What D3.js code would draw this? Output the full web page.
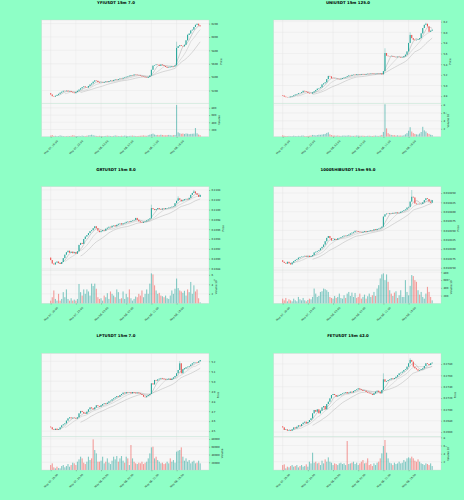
<!DOCTYPE html>
<html>
<head>
<meta charset="utf-8">
<script src="https://cdn.jsdelivr.net/npm/d3@7"></script>
<style>
  body { margin: 0; background: #8effc6; }
  svg { display: block; }
  text { font-family: "DejaVu Sans", sans-serif; }
</style>
</head>
<body>
<svg id="chart" width="464" height="500"></svg>
<script>
// x axis: 96 candles of 15m, a label every 16 candles
var timeTicks = [0, 16, 32, 48, 64, 80];
var timeLabels = ["May 07, 19:00", "May 07, 23:00", "May 08, 03:00", "May 08, 07:00", "May 08, 11:00", "May 08, 15:00"];
var mavWindows = [5, 10, 20];

// YFIUSDT
var yfiClose = [5140,5115,5108,5122,5135,5150,5168,5182,5196,5190,
  5198,5186,5192,5178,5170,5160,5178,5196,5214,5232,
  5250,5262,5248,5244,5268,5290,5306,5332,5352,5345,
  5325,5316,5322,5318,5328,5336,5330,5342,5350,5344,
  5358,5366,5360,5372,5380,5378,5390,5398,5406,5414,
  5422,5432,5428,5440,5436,5430,5426,5418,5410,5404,
  5396,5390,5402,5424,5510,5572,5580,5590,5584,5570,
  5588,5578,5566,5552,5540,5548,5556,5566,5560,5576,
  5836,5862,5878,5866,5860,5884,5950,6030,6052,6098,
  6110,6150,6182,6198,6172,6160];
var yfiVolume = [30,45,20,25,15,20,35,25,18,12,
  15,22,18,25,40,30,20,18,25,15,
  30,22,16,28,35,45,55,40,30,22,
  18,25,20,15,18,22,30,25,20,18,
  22,35,28,20,18,26,22,30,25,18,
  22,26,30,24,20,18,22,26,30,35,
  28,24,40,55,70,85,60,45,50,40,
  55,48,42,38,45,50,40,36,42,48,
  880,120,95,80,88,76,90,84,70,78,
  82,86,240,95,60,40];
var yfiPriceTicks = [5200, 5400, 5600, 5800, 6000, 6200];
var yfiVolTicks = [200, 400, 600, 800];

// UNIUSDT
var uniClose = [4.81,4.79,4.78,4.775,4.78,4.79,4.80,4.815,4.83,4.84,
  4.855,4.86,4.875,4.90,4.89,4.88,4.86,4.85,4.848,4.87,
  4.89,4.915,4.94,4.95,4.965,5.02,5.04,5.06,5.12,5.18,
  5.17,5.135,5.13,5.125,5.128,5.12,5.115,5.125,5.14,5.15,
  5.16,5.175,5.19,5.185,5.20,5.205,5.198,5.21,5.212,5.205,
  5.215,5.21,5.205,5.215,5.22,5.218,5.225,5.222,5.215,5.218,
  5.225,5.22,5.228,5.21,5.27,5.61,5.56,5.55,5.545,5.55,
  5.54,5.535,5.53,5.54,5.535,5.525,5.53,5.55,5.58,5.64,
  5.80,5.95,5.89,5.86,5.85,5.86,5.87,5.89,5.98,6.08,
  6.14,6.16,6.11,6.01,6.03,6.05];
var uniVolume = [35000,22000,18000,15000,20000,12000,16000,25000,18000,14000,
  22000,19000,26000,30000,18000,15000,20000,24000,32000,45000,
  38000,30000,42000,50000,48000,55000,62000,70000,95000,110000,
  60000,40000,30000,28000,25000,30000,22000,20000,26000,30000,
  24000,28000,35000,26000,22000,20000,25000,30000,28000,24000,
  22000,26000,20000,18000,22000,25000,20000,18000,24000,28000,
  22000,20000,30000,45000,120000,820000,210000,90000,60000,45000,
  40000,38000,30000,35000,28000,30000,26000,35000,60000,90000,
  150000,240000,130000,90000,70000,60000,55000,80000,120000,250000,
  160000,130000,90000,70000,50000,40000];
var uniPriceTicks = [4.8, 5.0, 5.2, 5.4, 5.6, 5.8, 6.0, 6.2];
var uniVolTicks = [200000, 400000, 600000, 800000];

// GRTUSDT
var grtClose = [0.10897,0.10890,0.10888,0.10892,0.10894,0.10891,0.10889,0.10893,0.10901,0.10908,
  0.10913,0.10916,0.10912,0.10914,0.10911,0.10913,0.10910,0.10915,0.10928,0.10932,
  0.10930,0.10940,0.10945,0.10948,0.10952,0.10956,0.10958,0.10962,0.10966,0.10962,
  0.10957,0.10954,0.10956,0.10958,0.10957,0.10961,0.10963,0.10965,0.10964,0.10967,
  0.10968,0.10966,0.10969,0.10971,0.10972,0.10970,0.10972,0.10973,0.10975,0.10976,
  0.10975,0.10977,0.10978,0.10979,0.10983,0.10979,0.10976,0.10974,0.10973,0.10975,
  0.10976,0.10978,0.10980,0.10982,0.11003,0.11001,0.10999,0.11001,0.11003,0.11001,
  0.11000,0.11002,0.11001,0.11003,0.11003,0.11004,0.11005,0.11006,0.11007,0.11013,
  0.11018,0.11023,0.11020,0.11017,0.11019,0.11021,0.11022,0.11021,0.11024,0.11030,
  0.11034,0.11037,0.11033,0.11030,0.11026,0.11030];
var grtVolume = [570000,1290000,2710000,930000,570000,2000000,570000,930000,2360000,1290000,
  2930000,930000,570000,1070000,570000,790000,570000,930000,4070000,2360000,
  1640000,2930000,2000000,2930000,2500000,1640000,4140000,3640000,4140000,3070000,
  1290000,930000,1070000,570000,1640000,1290000,2140000,930000,2500000,2000000,
  1640000,1290000,2930000,2360000,930000,1070000,2500000,930000,2000000,1290000,
  2930000,1070000,570000,930000,1430000,1290000,2000000,1640000,2710000,1290000,
  2000000,2930000,2000000,4140000,6290000,6070000,3790000,2710000,2000000,2210000,
  1640000,1500000,1290000,1640000,1070000,930000,1640000,2710000,2000000,3070000,
  5210000,3210000,2710000,2500000,2210000,2640000,1640000,2930000,2360000,4500000,
  2000000,3790000,2500000,2930000,1070000,210000];
var grtPriceTicks = [0.1088, 0.1090, 0.1092, 0.1094, 0.1096, 0.1098, 0.1100, 0.1102, 0.1104];
var grtVolTicks = [2000000, 4000000, 6000000];

// 1000SHIBUSDT
var shibClose = [0.010266,0.010263,0.010261,0.010266,0.010262,0.010259,0.010264,0.010268,0.010271,0.010273,
  0.010277,0.010279,0.010280,0.010281,0.010282,0.010280,0.010282,0.010279,0.010281,0.010284,
  0.010291,0.010293,0.010295,0.010297,0.010302,0.010306,0.010312,0.010321,0.010330,0.010335,
  0.010329,0.010323,0.010324,0.010327,0.010325,0.010329,0.010330,0.010332,0.010334,0.010336,
  0.010335,0.010337,0.010339,0.010342,0.010344,0.010346,0.010349,0.010348,0.010346,0.010345,
  0.010344,0.010346,0.010348,0.010346,0.010348,0.010349,0.010351,0.010350,0.010353,0.010351,
  0.010354,0.010355,0.010357,0.010360,0.010387,0.010393,0.010395,0.010394,0.010396,0.010395,
  0.010397,0.010396,0.010398,0.010396,0.010397,0.010400,0.010402,0.010404,0.010406,0.010411,
  0.010413,0.010427,0.010440,0.010438,0.010422,0.010420,0.010421,0.010420,0.010421,0.010425,
  0.010431,0.010436,0.010434,0.010427,0.010424,0.010431];
var shibVolume = [121000,78000,139000,52000,104000,78000,52000,121000,78000,52000,
  165000,104000,78000,139000,78000,52000,87000,121000,104000,165000,
  381000,251000,165000,190000,294000,312000,381000,364000,338000,294000,
  165000,139000,121000,190000,139000,165000,251000,139000,121000,208000,
  139000,251000,294000,190000,277000,165000,268000,139000,165000,251000,
  121000,165000,225000,121000,182000,251000,165000,208000,294000,190000,
  381000,468000,641000,745000,771000,597000,745000,554000,338000,251000,
  190000,277000,312000,139000,208000,338000,165000,165000,597000,294000,
  208000,450000,727000,701000,597000,554000,338000,225000,294000,165000,
  121000,251000,424000,294000,165000,78000];
var shibPriceTicks = [0.010250, 0.010275, 0.010300, 0.010325, 0.010350, 0.010375, 0.010400, 0.010425, 0.010450];
var shibVolTicks = [200000, 400000, 600000, 800000];

// LPTUSDT
var lptClose = [4.538,4.518,4.511,4.524,4.511,4.518,4.538,4.558,4.568,4.578,
  4.605,4.628,4.638,4.628,4.635,4.631,4.625,4.638,4.678,4.702,
  4.692,4.678,4.672,4.695,4.718,4.738,4.728,4.718,4.738,4.759,
  4.752,4.745,4.759,4.772,4.779,4.772,4.785,4.799,4.805,4.819,
  4.829,4.839,4.852,4.845,4.862,4.872,4.886,4.879,4.892,4.886,
  4.889,4.879,4.892,4.886,4.879,4.886,4.879,4.872,4.862,4.845,
  4.839,4.852,4.862,4.872,4.979,4.968,5.013,5.006,5.019,5.026,
  5.033,5.026,5.019,5.013,5.019,5.026,5.013,5.026,5.039,5.053,
  5.080,5.113,5.180,5.080,5.120,5.130,5.140,5.146,5.153,5.167,
  5.180,5.190,5.193,5.187,5.200,5.213];
var lptVolume = [12900,17200,6900,4300,8600,5100,4300,10300,12900,6900,
  10300,15400,8600,12900,18900,17200,12900,21500,27500,34300,
  30000,18900,15400,21500,34300,25700,30000,78900,51500,42900,
  21500,21500,24000,34300,17200,21500,30000,18900,15400,24000,
  34300,27500,36000,21500,30000,36000,24000,18900,34300,30000,
  12900,64400,30000,21500,17200,15400,18900,17200,21500,15400,
  18900,21500,30000,42900,58300,60100,30000,34300,25700,21500,
  17200,18900,15400,17200,21500,17200,30000,21500,25700,18900,
  47200,49800,51500,58300,34300,24000,30000,21500,25700,17200,
  21500,24000,17200,18900,24000,17200];
var lptPriceTicks = [4.5, 4.6, 4.7, 4.8, 4.9, 5.0, 5.1, 5.2];
var lptVolTicks = [20000, 40000, 60000, 80000];

// FETUSDT
var fetClose = [0.26682,0.26636,0.26647,0.26624,0.26636,0.26624,0.26647,0.26682,0.26665,0.26694,
  0.26718,0.26706,0.26741,0.26765,0.26782,0.26753,0.26777,0.26812,0.26841,0.26930,
  0.26988,0.26959,0.27000,0.26930,0.26977,0.27035,0.27059,0.27000,0.27094,0.27135,
  0.27194,0.27253,0.27271,0.27253,0.27224,0.27241,0.27253,0.27271,0.27282,0.27294,
  0.27306,0.27282,0.27294,0.27312,0.27300,0.27324,0.27341,0.27353,0.27371,0.27353,
  0.27341,0.27324,0.27329,0.27306,0.27294,0.27282,0.27271,0.27253,0.27282,0.27312,
  0.27329,0.27306,0.27282,0.27341,0.27530,0.27488,0.27500,0.27518,0.27529,0.27547,
  0.27535,0.27553,0.27576,0.27606,0.27635,0.27647,0.27665,0.27694,0.27706,0.27753,
  0.27812,0.27871,0.27841,0.27753,0.27724,0.27706,0.27682,0.27694,0.27706,0.27724,
  0.27765,0.27812,0.27800,0.27782,0.27812,0.27824];
var fetVolume = [122000,139000,41000,82000,65000,98000,122000,82000,98000,122000,
  65000,98000,122000,82000,98000,139000,82000,204000,163000,424000,
  180000,204000,163000,180000,122000,229000,163000,261000,204000,310000,
  204000,180000,122000,163000,147000,122000,163000,180000,147000,163000,
  122000,710000,147000,163000,180000,204000,147000,180000,122000,163000,
  204000,245000,163000,180000,286000,122000,147000,98000,163000,122000,
  180000,204000,286000,408000,588000,735000,424000,286000,180000,163000,
  122000,180000,147000,163000,204000,163000,180000,245000,204000,286000,
  310000,286000,327000,286000,229000,204000,261000,204000,163000,147000,
  122000,163000,147000,122000,163000,98000];
var fetPriceTicks = [0.2660, 0.2680, 0.2700, 0.2720, 0.2740, 0.2760, 0.2780];
var fetVolTicks = [200000, 400000, 600000, 800000];

var panels = [
  {title: "YFIUSDT 15m 7.0", open0: 5160, close: yfiClose, volume: yfiVolume,
   priceDomain: [5008, 6254], priceTicks: yfiPriceTicks, priceFormat: "d",
   volTop: 924, volTicks: yfiVolTicks, volExp: 0, wicks: [[80, 5930], [87, 6045]]},
  {title: "UNIUSDT 15m 125.0", open0: 4.82, close: uniClose, volume: uniVolume,
   priceDomain: [4.664, 6.231], priceTicks: uniPriceTicks, priceFormat: ".1f",
   volTop: 843000, volTicks: uniVolTicks, volExp: 5, wicks: [[65, 5.70], [81, 6.00], [91, 6.18]]},
  {title: "GRTUSDT 15m 8.0", open0: 0.10902, close: grtClose, volume: grtVolume,
   priceDomain: [0.108767, 0.110468], priceTicks: grtPriceTicks, priceFormat: ".4f",
   volTop: 7000000, volTicks: grtVolTicks, volExp: 6, wicks: [[64, 0.11010], [81, 0.11027], [91, 0.11040]]},
  {title: "1000SHIBUSDT 15m 95.0", open0: 0.010270, close: shibClose, volume: shibVolume,
   priceDomain: [0.010244, 0.010467], priceTicks: shibPriceTicks, priceFormat: ".6f",
   volTop: 857000, volTicks: shibVolTicks, volExp: 3, wicks: [[82, 0.010458]]},
  {title: "LPTUSDT 15m 7.0", open0: 4.545, close: lptClose, volume: lptVolume,
   priceDomain: [4.444, 5.28], priceTicks: lptPriceTicks, priceFormat: ".1f",
   volTop: 85800, volTicks: lptVolTicks, volExp: 0, wicks: [[82, 5.203]]},
  {title: "FETUSDT 15m 42.0", open0: 0.26700, close: fetClose, volume: fetVolume,
   priceDomain: [0.26518, 0.27988], priceTicks: fetPriceTicks, priceFormat: ".4f",
   volTop: 816000, volTicks: fetVolTicks, volExp: 5, wicks: [[64, 0.27635], [81, 0.27900]]}
];

var upColor = "#26a69a", downColor = "#ef5350";
var mavColors = ["#a6a6a6", "#c2c2c2", "#b4b4b4"];
var cellW = 232, cellH = 500 / 3;
var box = {left: 41.7, right: 209, top: 20, bottom: 136.7};
var priceBottom = box.top + (box.bottom - box.top) * 5 / 7;
var tickFont = 2.6;

var svg = d3.select("#chart");

function styleAxis(ax) {
  ax.select(".domain").remove();
  ax.selectAll(".tick line").attr("stroke", "#444").attr("stroke-width", 0.3);
  ax.selectAll(".tick text").attr("font-size", tickFont).attr("fill", "#222");
}

panels.forEach(function(p, k) {
  var g = svg.append("g")
    .attr("transform", "translate(" + (k % 2) * cellW + "," + Math.floor(k / 2) * cellH + ")");
  var n = p.close.length;

  var x = d3.scaleLinear().domain([-5.7, n - 1 + 5.6]).range([box.left, box.right]);
  var y = d3.scaleLinear().domain(p.priceDomain).range([priceBottom, box.top]);
  var yv = d3.scaleLinear().domain([0, p.volTop]).range([box.bottom, priceBottom]);
  var step = x(1) - x(0);

  var bars = p.close.map(function(c, i) {
    var o = i ? p.close[i - 1] : p.open0;
    return {i: i, o: o, c: c, h: Math.max(o, c), l: Math.min(o, c), v: p.volume[i], up: c >= o};
  });
  p.wicks.forEach(function(w) { bars[w[0]].h = Math.max(bars[w[0]].h, w[1]); });

  // title
  g.append("text")
    .attr("x", cellW / 2).attr("y", 3)
    .attr("text-anchor", "middle").attr("dominant-baseline", "middle")
    .attr("font-size", 3.9).attr("font-weight", "bold").attr("fill", "#000")
    .text(p.title);

  // pane backgrounds
  g.append("rect").attr("x", box.left).attr("y", box.top)
    .attr("width", box.right - box.left).attr("height", priceBottom - box.top)
    .attr("fill", "#f7f7f7");
  g.append("rect").attr("x", box.left).attr("y", priceBottom)
    .attr("width", box.right - box.left).attr("height", box.bottom - priceBottom)
    .attr("fill", "#f7f7f7");

  // grid
  var grid = g.append("g").attr("stroke", "#e1e1e1").attr("stroke-width", 0.35);
  grid.selectAll(".vx").data(timeTicks).enter().append("line")
    .attr("x1", function(d) { return x(d); }).attr("x2", function(d) { return x(d); })
    .attr("y1", box.top).attr("y2", box.bottom);
  grid.selectAll(".hy").data(p.priceTicks).enter().append("line")
    .attr("x1", box.left).attr("x2", box.right)
    .attr("y1", function(d) { return y(d); }).attr("y2", function(d) { return y(d); });
  grid.selectAll(".hv").data(p.volTicks).enter().append("line")
    .attr("x1", box.left).attr("x2", box.right)
    .attr("y1", function(d) { return yv(d); }).attr("y2", function(d) { return yv(d); });

  // volume bars
  g.selectAll(".vol").data(bars).enter().append("rect")
    .attr("x", function(d) { return x(d.i) - step * 0.35; })
    .attr("width", step * 0.7)
    .attr("y", function(d) { return yv(d.v); })
    .attr("height", function(d) { return yv(0) - yv(d.v); })
    .attr("fill", function(d) { return d.up ? upColor : downColor; })
    .attr("fill-opacity", 0.55);

  // moving averages
  mavWindows.forEach(function(w, j) {
    var pts = [];
    for (var i = w - 1; i < n; i++) {
      pts.push([i, d3.mean(p.close.slice(i - w + 1, i + 1))]);
    }
    g.append("path").datum(pts)
      .attr("fill", "none").attr("stroke", mavColors[j]).attr("stroke-width", 0.5)
      .attr("d", d3.line().x(function(d) { return x(d[0]); }).y(function(d) { return y(d[1]); }));
  });

  // candles
  g.selectAll(".wick").data(bars).enter().append("line")
    .attr("x1", function(d) { return x(d.i); }).attr("x2", function(d) { return x(d.i); })
    .attr("y1", function(d) { return y(d.h); }).attr("y2", function(d) { return y(d.l); })
    .attr("stroke", function(d) { return d.up ? upColor : downColor; })
    .attr("stroke-width", 0.35);
  g.selectAll(".body").data(bars).enter().append("rect")
    .attr("x", function(d) { return x(d.i) - step * 0.33; })
    .attr("width", step * 0.66)
    .attr("y", function(d) { return y(Math.max(d.o, d.c)); })
    .attr("height", function(d) { return Math.max(0.3, Math.abs(y(d.o) - y(d.c))); })
    .attr("fill", function(d) { return d.up ? upColor : downColor; });

  // frames
  g.append("rect").attr("x", box.left).attr("y", box.top)
    .attr("width", box.right - box.left).attr("height", box.bottom - box.top)
    .attr("fill", "none").attr("stroke", "#cfcfcf").attr("stroke-width", 0.35);
  g.append("line").attr("x1", box.left).attr("x2", box.right)
    .attr("y1", priceBottom).attr("y2", priceBottom)
    .attr("stroke", "#cfcfcf").attr("stroke-width", 0.35);

  // right axes
  var yAxis = g.append("g").attr("transform", "translate(" + box.right + ",0)")
    .call(d3.axisRight(y).tickValues(p.priceTicks).tickSize(1.2).tickPadding(1.2)
      .tickFormat(d3.format(p.priceFormat)));
  styleAxis(yAxis);
  var vAxis = g.append("g").attr("transform", "translate(" + box.right + ",0)")
    .call(d3.axisRight(yv).tickValues(p.volTicks).tickSize(1.2).tickPadding(1.2)
      .tickFormat(function(d) { return d3.format("d")(d / Math.pow(10, p.volExp)); }));
  styleAxis(vAxis);

  function maxWidth(ax) {
    var m = 0;
    ax.selectAll(".tick text").each(function() { m = Math.max(m, this.getComputedTextLength()); });
    return m;
  }
  var px = box.right + 2.4 + maxWidth(yAxis) + 1.6 + tickFont / 2;
  g.append("text")
    .attr("transform", "translate(" + px + "," + (box.top + priceBottom) / 2 + ") rotate(-90)")
    .attr("text-anchor", "middle").attr("dominant-baseline", "middle")
    .attr("font-size", tickFont).attr("fill", "#222").text("Price");
  var vx = box.right + 2.4 + maxWidth(vAxis) + 1.6 + tickFont / 2;
  var vLabel = g.append("text")
    .attr("transform", "translate(" + vx + "," + (priceBottom + box.bottom) / 2 + ") rotate(-90)")
    .attr("text-anchor", "middle").attr("dominant-baseline", "middle")
    .attr("font-size", tickFont).attr("fill", "#222");
  if (p.volExp) {
    vLabel.append("tspan").text("Volume  10");
    vLabel.append("tspan").attr("dy", "-0.45em").attr("font-size", tickFont * 0.7).text(p.volExp);
  } else {
    vLabel.text("Volume");
  }

  // bottom axis with rotated date labels
  var xAxis = g.append("g").attr("transform", "translate(0," + box.bottom + ")")
    .call(d3.axisBottom(x).tickValues(timeTicks).tickSize(1.2)
      .tickFormat(function(d, i) { return timeLabels[i]; }));
  styleAxis(xAxis);
  xAxis.selectAll(".tick text").each(function() {
    var L = this.getComputedTextLength();
    var half = (L + tickFont) * Math.SQRT1_2 / 2;
    d3.select(this)
      .attr("y", null).attr("dy", null)
      .attr("text-anchor", "middle").attr("dominant-baseline", "middle")
      .attr("transform", "translate(0," + (3.3 + half) + ") rotate(-45)");
  });
});
</script>
</body>
</html>
